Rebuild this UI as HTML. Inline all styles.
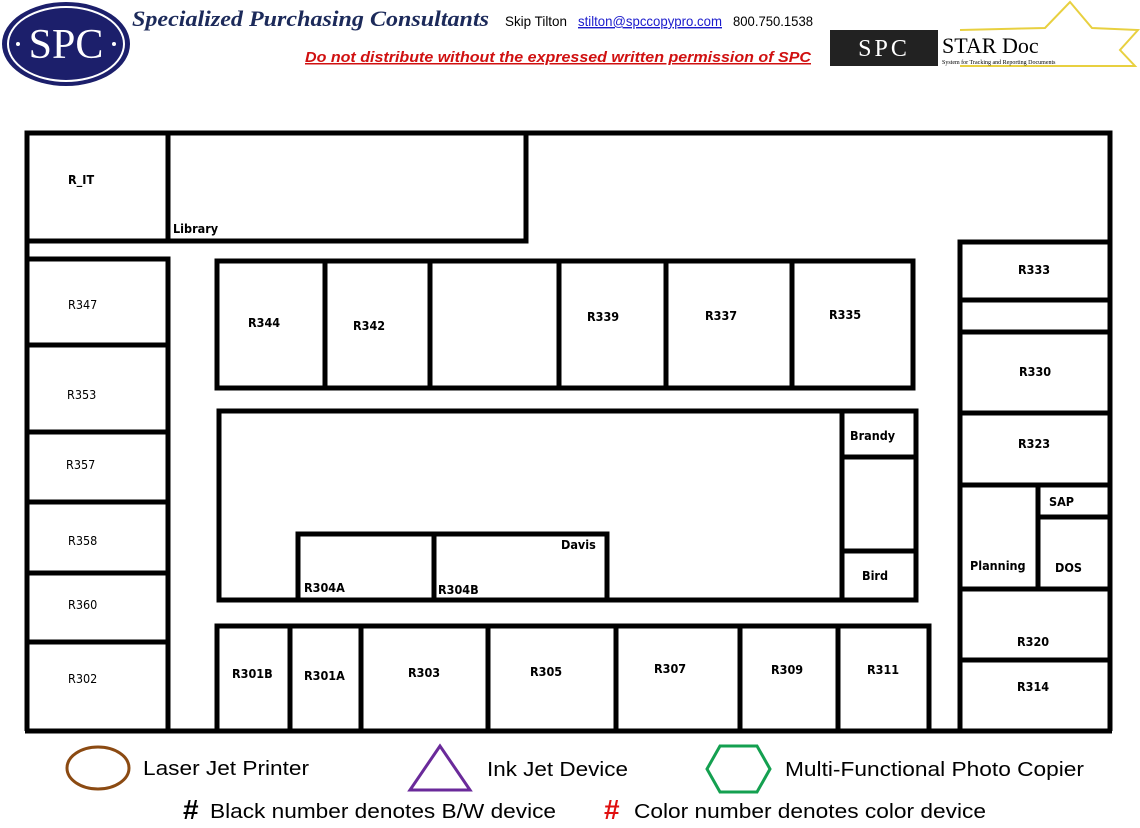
<!DOCTYPE html>
<html><head><meta charset="utf-8"><style>
body{margin:0;background:#fff;width:1140px;height:828px;overflow:hidden}
svg{display:block}
.b{font-family:"DejaVu Sans Condensed","DejaVu Sans",sans-serif;font-weight:bold;font-size:12.5px}
.n{font-family:"DejaVu Sans Condensed","DejaVu Sans",sans-serif;font-size:12.5px}
.lg{font-family:"Liberation Sans",sans-serif;font-size:20px}
</style></head><body>
<svg width="1140" height="828" viewBox="0 0 1140 828">
<ellipse cx="66" cy="44" rx="64" ry="42" fill="#1c1f6b"/>
<ellipse cx="66" cy="44" rx="58" ry="37" fill="none" stroke="#fff" stroke-width="2"/>
<text x="66" y="58" text-anchor="middle" fill="#fff" font-family="Liberation Serif,serif" font-size="42">SPC</text>
<circle cx="18" cy="44" r="2" fill="#fff"/><circle cx="114" cy="44" r="2" fill="#fff"/>
<text x="132" y="26" fill="#1c2a5a" font-family="Liberation Serif,serif" font-style="italic" font-weight="bold" font-size="22" textLength="357" lengthAdjust="spacingAndGlyphs">Specialized Purchasing Consultants</text>
<text x="505" y="26" font-family="Liberation Sans,sans-serif" font-size="14" textLength="62" lengthAdjust="spacingAndGlyphs">Skip Tilton</text>
<text x="578" y="26" fill="#1a1acc" text-decoration="underline" font-family="Liberation Sans,sans-serif" font-size="14" textLength="144" lengthAdjust="spacingAndGlyphs">stilton@spccopypro.com</text>
<text x="733" y="26" font-family="Liberation Sans,sans-serif" font-size="14" textLength="80" lengthAdjust="spacingAndGlyphs">800.750.1538</text>
<text x="305" y="62" fill="#d01010" text-decoration="underline" font-family="Liberation Sans,sans-serif" font-style="italic" font-weight="bold" font-size="15" textLength="506" lengthAdjust="spacingAndGlyphs">Do not distribute without the expressed written permission of SPC</text>
<polyline points="960,30 1045,28 1070,2 1092,28 1138,30 1120,50 1135,66 960,66" fill="none" stroke="#e8d040" stroke-width="2"/>
<rect x="830" y="30" width="108" height="36" fill="#222"/>
<text x="884" y="56" text-anchor="middle" fill="#fff" font-family="Liberation Serif,serif" font-size="24" letter-spacing="3">SPC</text>
<text x="942" y="53" font-family="Liberation Serif,serif" font-size="22">STAR Doc</text>
<text x="942" y="64" font-family="Liberation Serif,serif" font-size="6">System for Tracking and Reporting Documents</text>
<g fill="none" stroke="#000" stroke-width="5">
<polyline points="27,731 27,133 1110,133 1110,731"/>
<line x1="25" y1="731" x2="1112" y2="731"/>
<rect x="27" y="133" width="141" height="108"/>
<rect x="168" y="133" width="358" height="108"/>
<rect x="27" y="259" width="141" height="86"/>
<line x1="168" y1="345" x2="168" y2="731"/>
<line x1="27" y1="345" x2="168" y2="345"/>
<line x1="27" y1="432" x2="170" y2="432"/>
<line x1="27" y1="502" x2="168" y2="502"/>
<line x1="27" y1="573" x2="168" y2="573"/>
<line x1="27" y1="642" x2="168" y2="642"/>
<rect x="217" y="261" width="696" height="127"/>
<line x1="325" y1="261" x2="325" y2="388"/><line x1="430" y1="261" x2="430" y2="388"/>
<line x1="559" y1="261" x2="559" y2="388"/><line x1="666" y1="261" x2="666" y2="388"/>
<line x1="792" y1="261" x2="792" y2="388"/>
<rect x="219" y="411" width="697" height="189"/>
<line x1="842" y1="411" x2="842" y2="600"/>
<line x1="842" y1="457" x2="916" y2="457"/><line x1="842" y1="551" x2="916" y2="551"/>
<rect x="298" y="534" width="309" height="66"/>
<line x1="434" y1="534" x2="434" y2="600"/>
<rect x="217" y="626" width="712" height="105"/>
<line x1="290" y1="626" x2="290" y2="731"/><line x1="361" y1="626" x2="361" y2="731"/>
<line x1="488" y1="626" x2="488" y2="731"/><line x1="616" y1="626" x2="616" y2="731"/>
<line x1="740" y1="626" x2="740" y2="731"/><line x1="838" y1="626" x2="838" y2="731"/>
<polyline points="960,731 960,242 1110,242"/>
<line x1="960" y1="300" x2="1110" y2="300"/><line x1="960" y1="332" x2="1110" y2="332"/>
<line x1="960" y1="413" x2="1110" y2="413"/><line x1="960" y1="485" x2="1110" y2="485"/>
<line x1="1038" y1="485" x2="1038" y2="589"/><line x1="1038" y1="517" x2="1110" y2="517"/>
<line x1="960" y1="589" x2="1110" y2="589"/><line x1="960" y1="660" x2="1110" y2="660"/>
</g>
<g class="b">
<text x="68" y="184">R_IT</text><text x="173" y="233">Library</text>
<text x="248" y="327">R344</text><text x="353" y="330">R342</text><text x="587" y="321">R339</text>
<text x="705" y="320">R337</text><text x="829" y="319">R335</text>
<text x="850" y="440">Brandy</text><text x="862" y="580">Bird</text>
<text x="561" y="549">Davis</text><text x="304" y="592">R304A</text><text x="438" y="594">R304B</text>
<text x="232" y="678">R301B</text><text x="304" y="680">R301A</text><text x="408" y="677">R303</text>
<text x="530" y="676">R305</text><text x="654" y="673">R307</text><text x="771" y="674">R309</text><text x="867" y="674">R311</text>
<text x="1018" y="274">R333</text><text x="1019" y="376">R330</text><text x="1018" y="448">R323</text>
<text x="1049" y="506">SAP</text><text x="970" y="570">Planning</text><text x="1055" y="572">DOS</text>
<text x="1017" y="646">R320</text><text x="1017" y="691">R314</text>
</g>
<g class="n">
<text x="68" y="309">R347</text><text x="67" y="399">R353</text><text x="66" y="469">R357</text>
<text x="68" y="545">R358</text><text x="68" y="609">R360</text><text x="68" y="683">R302</text>
</g>
<ellipse cx="98" cy="768" rx="31" ry="21" fill="none" stroke="#8b4a12" stroke-width="3"/>
<text x="143" y="775" class="lg" textLength="166" lengthAdjust="spacingAndGlyphs">Laser Jet Printer</text>
<polygon points="440,746 410,790 470,790" fill="none" stroke="#6a2a9a" stroke-width="3"/>
<text x="487" y="776" class="lg" textLength="141" lengthAdjust="spacingAndGlyphs">Ink Jet Device</text>
<polygon points="720,746 757,746 770,769 757,792 720,792 707,769" fill="none" stroke="#14a050" stroke-width="3"/>
<text x="785" y="776" class="lg" textLength="299" lengthAdjust="spacingAndGlyphs">Multi-Functional Photo Copier</text>
<text x="183" y="819" font-family="Liberation Sans,sans-serif" font-weight="bold" font-size="28">#</text>
<text x="210" y="818" class="lg" textLength="346" lengthAdjust="spacingAndGlyphs">Black number denotes B/W device</text>
<text x="604" y="819" fill="#e01010" font-family="Liberation Sans,sans-serif" font-weight="bold" font-size="28">#</text>
<text x="634" y="818" class="lg" textLength="352" lengthAdjust="spacingAndGlyphs">Color number denotes color device</text>
</svg>
</body></html>
